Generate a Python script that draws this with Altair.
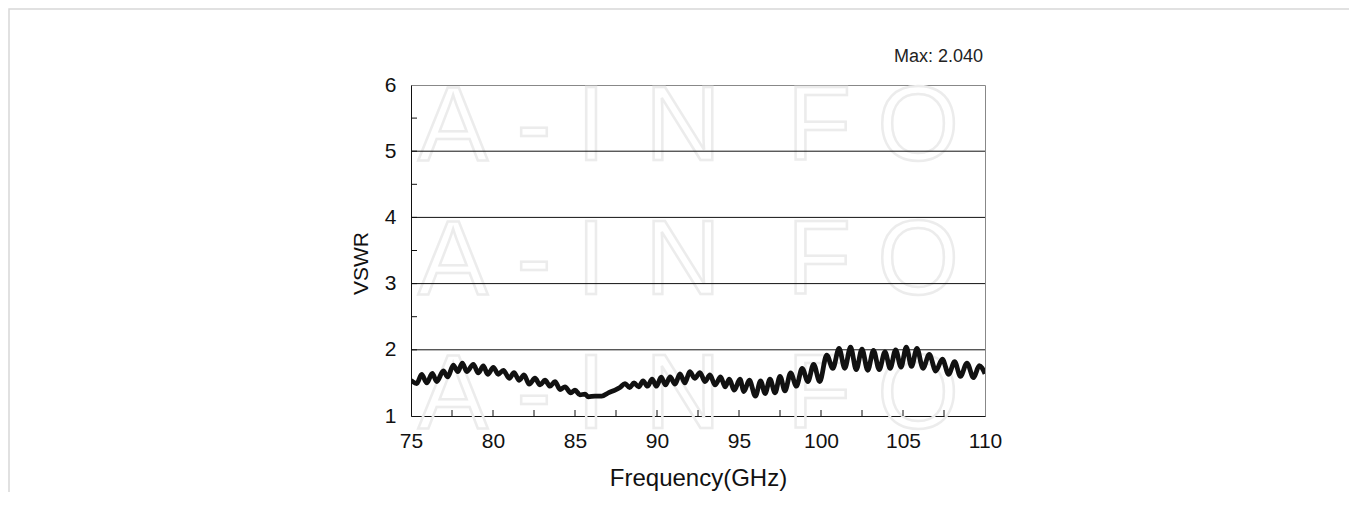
import altair as alt
import pandas as pd

# ---- data ----
FREQ = [75.00, 75.35, 75.65, 75.96, 76.30, 76.57, 76.97, 77.24, 77.58, 77.85,
        78.13, 78.40, 78.80, 79.10, 79.41, 79.68, 80.02, 80.32, 80.63, 80.99,
        81.28, 81.60, 81.89, 82.21, 82.56, 82.87, 83.17, 83.48, 83.78, 84.09,
        84.39, 84.74, 85.00, 85.30, 85.61, 85.81, 86.22, 86.63, 87.03, 87.44,
        87.74, 88.05, 88.33, 88.60, 88.88, 89.15, 89.42, 89.70, 89.97, 90.25,
        90.52, 90.80, 91.10, 91.40, 91.70, 92.00, 92.30, 92.62, 92.93, 93.23,
        93.54, 93.88, 94.15, 94.41, 94.71, 95.06, 95.30, 95.63, 96.00, 96.32,
        96.59, 96.89, 97.20, 97.50, 97.80, 98.15, 98.50, 98.85, 99.20, 99.55,
        99.92, 100.35, 100.72, 101.10, 101.45, 101.80, 102.15, 102.50, 102.85, 103.20,
        103.55, 103.90, 104.22, 104.55, 104.88, 105.20, 105.52, 105.85, 106.22, 106.60,
        107.00, 107.40, 107.78, 108.15, 108.50, 108.90, 109.30, 109.65, 110.00]
VSWR = [1.54, 1.49, 1.63, 1.50, 1.645, 1.52, 1.68, 1.59, 1.77, 1.67,
        1.80, 1.67, 1.78, 1.65, 1.755, 1.63, 1.735, 1.63, 1.69, 1.57,
        1.655, 1.54, 1.62, 1.48, 1.57, 1.47, 1.54, 1.45, 1.52, 1.40,
        1.44, 1.35, 1.39, 1.32, 1.33, 1.29, 1.30, 1.30, 1.35, 1.39,
        1.43, 1.49, 1.43, 1.50, 1.44, 1.53, 1.45, 1.555, 1.45, 1.585,
        1.47, 1.59, 1.48, 1.635, 1.50, 1.67, 1.57, 1.655, 1.52, 1.62,
        1.47, 1.59, 1.44, 1.555, 1.39, 1.555, 1.37, 1.54, 1.30, 1.53,
        1.34, 1.555, 1.35, 1.60, 1.38, 1.65, 1.45, 1.72, 1.52, 1.78,
        1.52, 1.92, 1.72, 2.02, 1.72, 2.04, 1.70, 2.01, 1.69, 1.99,
        1.70, 1.97, 1.72, 2.00, 1.74, 2.04, 1.75, 2.02, 1.72, 1.93,
        1.68, 1.86, 1.63, 1.82, 1.60, 1.80, 1.58, 1.76, 1.64]

X_LABELS = [75, 80, 85, 90, 95, 100, 105, 110]
Y_LABELS = [1, 2, 3, 4, 5, 6]
GRID_Y = [2, 3, 4, 5]
X_MINOR = [77.5, 80, 82.5, 85, 87.5, 90, 92.5, 95, 97.5, 100, 102.5, 105, 107.5]
Y_MINOR = [1.5, 2, 2.5, 3, 3.5, 4, 4.5, 5, 5.5]
MAX_TEXT = ["Max: 2.040"]
WATERMARK = ["A", "-", "I", "N", "F", "O"]

# ---- layout / style ----
W, H = 574, 331
FONT = "Liberation Sans"
WM_X = [42, 123, 180, 272, 408, 507]

x_scale = alt.Scale(domain=[75, 110], nice=False, zero=False)
y_scale = alt.Scale(domain=[1, 6], nice=False, zero=False)

x_axis = alt.Axis(
    values=X_LABELS, title="Frequency(GHz)", ticks=False, grid=False,
    labelFlush=False, labelOverlap=False, format="d",
    labelFontSize=21, labelPadding=14, titleFontSize=24,
    titleY=62, titleBaseline="middle")
y_axis = alt.Axis(
    values=Y_LABELS, title="VSWR", ticks=False, grid=False,
    labelFlush=False, labelOverlap=False, format="d",
    labelFontSize=21, labelPadding=15, titleFontSize=21,
    titleX=-50, titleY=178, titleAngle=270,
    titleBaseline="middle", titleAlign="center")

df = pd.DataFrame({"f": FREQ, "v": VSWR})

line = alt.Chart(df).mark_line(
    interpolate="monotone", strokeWidth=4.8, color="#111111", clip=True
).encode(
    x=alt.X("f:Q", scale=x_scale, axis=x_axis),
    y=alt.Y("v:Q", scale=y_scale, axis=y_axis),
)

grid = alt.Chart(pd.DataFrame({"g": GRID_Y})).mark_rule(
    color="#111111", strokeWidth=1
).encode(y=alt.Y("g:Q", scale=y_scale, axis=y_axis))

xt = alt.Chart(pd.DataFrame({"t": X_MINOR})).mark_rule(
    color="#111111", strokeWidth=1
).encode(x=alt.X("t:Q", scale=x_scale, axis=x_axis),
         y=alt.value(H), y2=alt.value(H - 6))

yt = alt.Chart(pd.DataFrame({"t": Y_MINOR})).mark_rule(
    color="#111111", strokeWidth=1
).encode(y=alt.Y("t:Q", scale=y_scale, axis=y_axis),
         x=alt.value(0), x2=alt.value(6))

maxtext = alt.Chart(pd.DataFrame({"t": MAX_TEXT})).mark_text(
    align="right", baseline="middle", fontSize=18, font=FONT, color="#222222"
).encode(x=alt.value(W - 2), y=alt.value(-28), text="t:N")

dummy = pd.DataFrame({"a": [0]})
frame = alt.Chart(dummy).mark_rect(
    fill="transparent", stroke="#d8d8d8", strokeWidth=1.5
).encode(x=alt.value(-402), x2=alt.value(939), y=alt.value(-76), y2=alt.value(600))

wm_layers = []
for letter, px in zip(WATERMARK, WM_X):
    wm_layers.append(
        alt.Chart(dummy).mark_text(
            text="\n".join([letter] * 3), lineBreak="\n", lineHeight=134,
            fontSize=105, font=FONT, align="center", baseline="alphabetic",
            fill="transparent", stroke="#ececec", strokeWidth=2.5
        ).encode(x=alt.value(px), y=alt.value(75))
    )

chart = alt.layer(frame, *wm_layers, grid, xt, yt, line, maxtext).properties(
    width=W, height=H,
    padding={"left": 403, "top": 77, "right": 364, "bottom": 76},
    autosize=alt.AutoSizeParams(type="none"),
    background="white",
).configure_view(
    stroke="#888888", strokeWidth=1
).configure_axis(
    domainColor="#111111", domainWidth=1, labelColor="#111111",
    titleColor="#111111", labelFont=FONT, titleFont=FONT,
    titleFontWeight="normal",
)

chart.save("out.html", embed_options={"renderer": "svg", "actions": False})
